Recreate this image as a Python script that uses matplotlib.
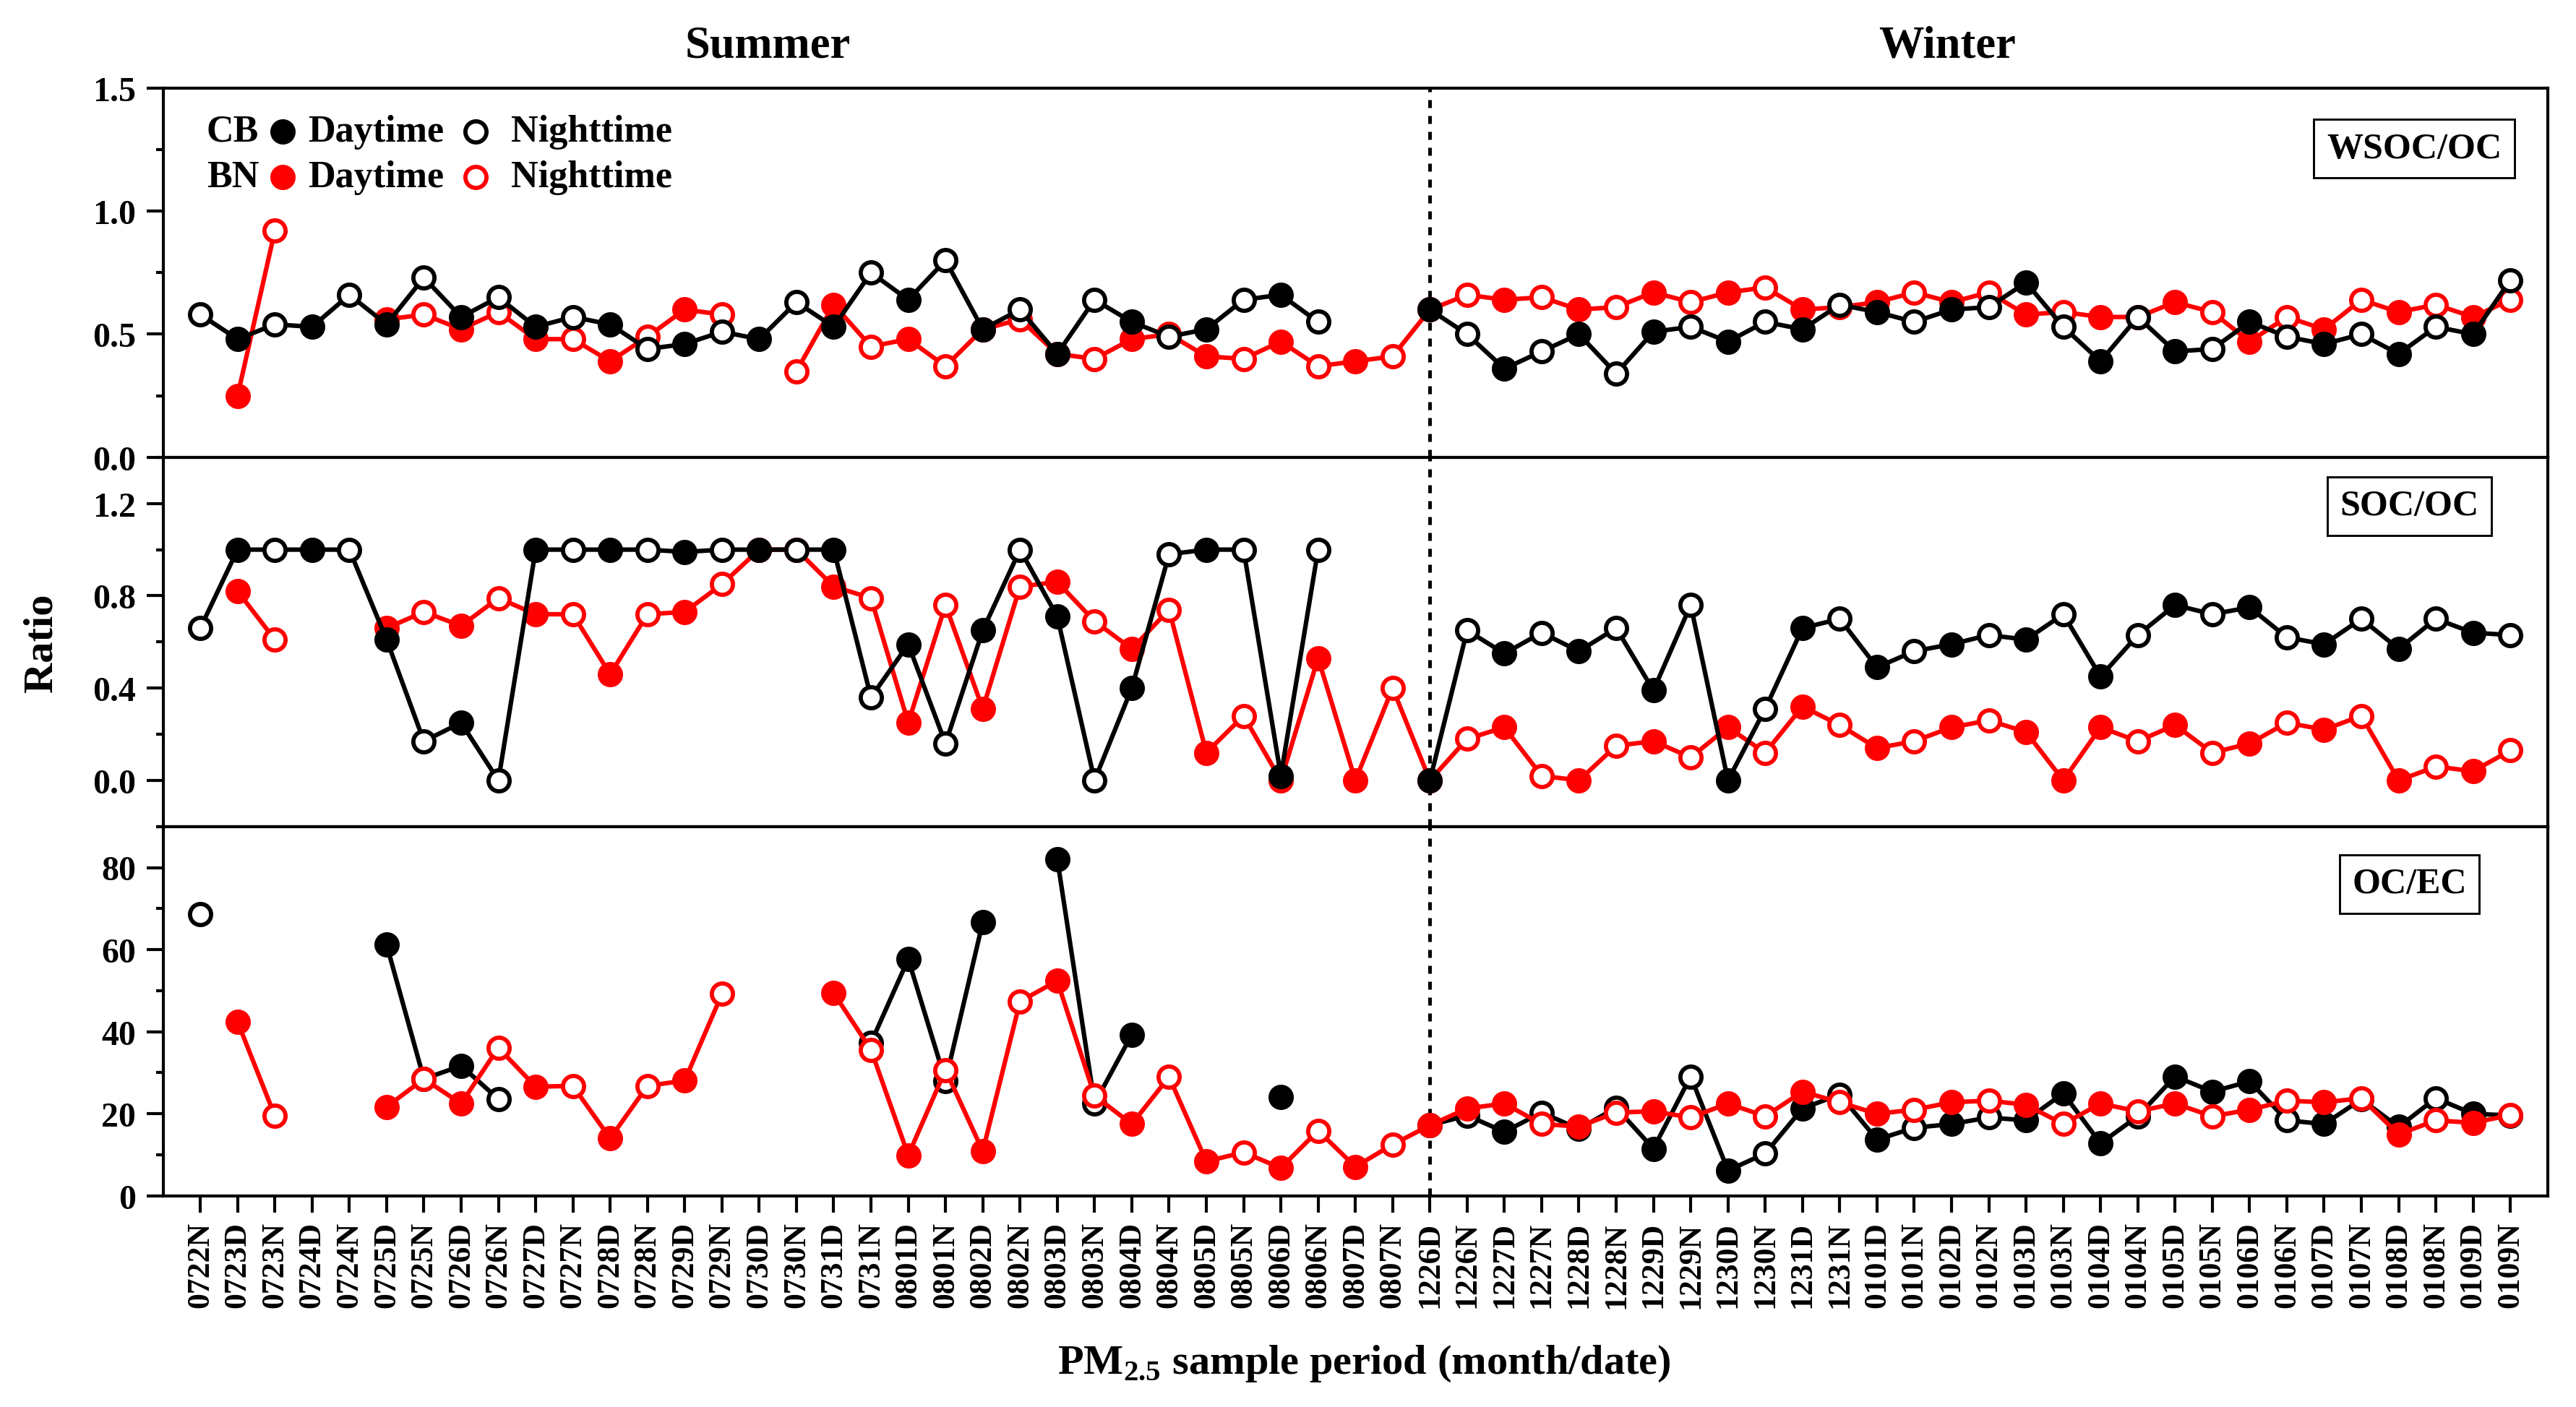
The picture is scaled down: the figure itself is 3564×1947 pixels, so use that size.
import matplotlib
matplotlib.use("Agg")
import matplotlib.pyplot as plt
import numpy as np
from matplotlib.ticker import MultipleLocator

nan = np.nan

# -- sample labels (D = daytime, N = nighttime) --
summer_samples = ["0722N", "0723D", "0723N", "0724D", "0724N", "0725D", "0725N", "0726D",
                  "0726N", "0727D", "0727N", "0728D", "0728N", "0729D", "0729N", "0730D",
                  "0730N", "0731D", "0731N", "0801D", "0801N", "0802D", "0802N", "0803D",
                  "0803N", "0804D", "0804N", "0805D", "0805N", "0806D", "0806N", "0807D",
                  "0807N"]
winter_samples = ["1226D", "1226N", "1227D", "1227N", "1228D", "1228N", "1229D", "1229N",
                  "1230D", "1230N", "1231D", "1231N", "0101D", "0101N", "0102D", "0102N",
                  "0103D", "0103N", "0104D", "0104N", "0105D", "0105N", "0106D", "0106N",
                  "0107D", "0107N", "0108D", "0108N", "0109D", "0109N"]
samples = summer_samples + winter_samples

# -- WSOC/OC --
wsoc_cb = [0.58, 0.48, 0.54, 0.53, 0.66, 0.54, 0.73, 0.57, 0.65, 0.53, 0.57,
           0.54, 0.44, 0.46, 0.51, 0.48, 0.63, 0.53, 0.75, 0.64, 0.80, 0.52,
           0.60, 0.42, 0.64, 0.55, 0.49, 0.52, 0.64, 0.66, 0.55, nan, nan,
           0.60, 0.50, 0.36, 0.43, 0.50, 0.34, 0.51, 0.53, 0.47, 0.55, 0.52,
           0.62, 0.59, 0.55, 0.60, 0.61, 0.71, 0.53, 0.39, 0.57, 0.43, 0.44,
           0.55, 0.49, 0.46, 0.50, 0.42, 0.53, 0.50, 0.72]
wsoc_bn = [nan, 0.25, 0.92, nan, nan, 0.56, 0.58, 0.52, 0.59, 0.48, 0.48,
           0.39, 0.49, 0.60, 0.58, nan, 0.35, 0.62, 0.45, 0.48, 0.37, 0.52,
           0.56, 0.42, 0.40, 0.48, 0.50, 0.41, 0.40, 0.47, 0.37, 0.39, 0.41,
           0.60, 0.66, 0.64, 0.65, 0.60, 0.61, 0.67, 0.63, 0.67, 0.69, 0.60,
           0.61, 0.63, 0.67, 0.63, 0.67, 0.58, 0.59, 0.57, 0.57, 0.63, 0.59,
           0.47, 0.57, 0.52, 0.64, 0.59, 0.62, 0.57, 0.64]

# -- SOC/OC --
soc_cb = [0.66, 1.00, 1.00, 1.00, 1.00, 0.61, 0.17, 0.25, 0.00, 1.00, 1.00,
          1.00, 1.00, 0.99, 1.00, 1.00, 1.00, 1.00, 0.36, 0.59, 0.16, 0.65,
          1.00, 0.71, 0.00, 0.40, 0.98, 1.00, 1.00, 0.02, 1.00, nan, nan,
          0.00, 0.65, 0.55, 0.64, 0.56, 0.66, 0.39, 0.76, 0.00, 0.31, 0.66,
          0.70, 0.49, 0.56, 0.59, 0.63, 0.61, 0.72, 0.45, 0.63, 0.76, 0.72,
          0.75, 0.62, 0.59, 0.70, 0.57, 0.70, 0.64, 0.63]
soc_bn = [nan, 0.82, 0.61, nan, nan, 0.66, 0.73, 0.67, 0.79, 0.72, 0.72,
          0.46, 0.72, 0.73, 0.85, 1.00, 1.00, 0.84, 0.79, 0.25, 0.76, 0.31,
          0.84, 0.86, 0.69, 0.57, 0.74, 0.12, 0.28, 0.00, 0.53, 0.00, 0.40,
          0.00, 0.18, 0.23, 0.02, 0.00, 0.15, 0.17, 0.10, 0.23, 0.12, 0.32,
          0.24, 0.14, 0.17, 0.23, 0.26, 0.21, 0.00, 0.23, 0.17, 0.24, 0.12,
          0.16, 0.25, 0.22, 0.28, 0.00, 0.06, 0.04, 0.13]

# -- OC/EC --
ocec_cb = [68.7, nan, nan, nan, nan, 61.2, 28.5, 31.7, 23.6, nan, nan,
           nan, nan, nan, nan, nan, nan, nan, 37.3, 57.7, 28.0, 66.7,
           nan, 82.1, 22.5, 39.3, nan, nan, nan, 24.1, nan, nan, nan,
           17.2, 19.6, 15.6, 20.3, 16.3, 21.5, 11.5, 29.1, 6.2, 10.3, 21.3,
           24.7, 13.7, 16.6, 17.5, 19.1, 18.4, 25.0, 12.8, 19.4, 29.1, 25.4,
           27.9, 18.4, 17.5, 23.5, 16.8, 23.8, 20.0, 19.6]
ocec_bn = [nan, 42.4, 19.5, nan, nan, 21.7, 28.5, 22.5, 36.1, 26.6, 26.8,
           14.0, 26.8, 28.1, 49.2, nan, nan, 49.4, 35.6, 9.9, 30.7, 10.9,
           47.4, 52.4, 24.4, 17.5, 29.0, 8.4, 10.6, 6.8, 15.9, 7.1, 12.5,
           17.2, 21.3, 22.5, 17.5, 16.9, 20.3, 20.6, 19.1, 22.5, 19.4, 25.4,
           22.8, 20.0, 21.0, 22.8, 23.2, 22.2, 17.5, 22.5, 20.6, 22.5, 19.4,
           21.0, 23.2, 22.8, 23.8, 15.0, 18.4, 17.8, 19.7]

# -- nighttime samples that the original draws with a filled marker --
soc_bn_filled = ["0806N", "0103N"]
ocec_cb_filled = ["0103N", "0105N"]
ocec_bn_filled = ["1226N"]

plt.rcParams["font.family"] = ["Liberation Serif", "DejaVu Serif"]
plt.rcParams["font.weight"] = "bold"
plt.rcParams["mathtext.fontset"] = "custom"
plt.rcParams["mathtext.rm"] = "Liberation Serif:bold"
plt.rcParams["mathtext.bf"] = "Liberation Serif:bold"

x = np.arange(len(samples))
split = len(summer_samples)


def draw_series(ax, values, color, filled_extra=()):
    y = np.asarray(values, dtype=float)
    filled = np.array([s.endswith("D") or s in filled_extra for s in samples])
    ax.plot(x, y, color=color, lw=1.5, solid_joinstyle="round")
    ax.plot(x[filled], y[filled], ls="none", marker="o", ms=7,
            mfc=color, mec=color, mew=1.4)
    ax.plot(x[~filled], y[~filled], ls="none", marker="o", ms=7,
            mfc="white", mec=color, mew=1.4)


fig, axes = plt.subplots(3, 1, figsize=(11.88, 6.493), dpi=300, sharex=True)
fig.subplots_adjust(left=0.0633, right=0.989, top=0.937, bottom=0.150, hspace=0)
ax_w, ax_s, ax_o = axes

# -- draw series (black drawn last on top two panels, red last on bottom) --
draw_series(ax_w, wsoc_bn, "red")
draw_series(ax_w, wsoc_cb, "black")
draw_series(ax_s, soc_bn, "red", soc_bn_filled)
draw_series(ax_s, soc_cb, "black")
draw_series(ax_o, ocec_cb, "black", ocec_cb_filled)
draw_series(ax_o, ocec_bn, "red", ocec_bn_filled)

# -- axes limits / ticks --
ax_w.set_ylim(0, 1.5)
ax_w.yaxis.set_major_locator(MultipleLocator(0.5))
ax_w.yaxis.set_minor_locator(MultipleLocator(0.25))
ax_w.yaxis.set_major_formatter(plt.FormatStrFormatter("%.1f"))

ax_s.set_ylim(-0.2, 1.4)
ax_s.set_yticks([0.0, 0.4, 0.8, 1.2])
ax_s.set_yticks([-0.2, 0.2, 0.6, 1.0, 1.4], minor=True)
ax_s.yaxis.set_major_formatter(plt.FormatStrFormatter("%.1f"))

ax_o.set_ylim(0, 90)
ax_o.yaxis.set_major_locator(MultipleLocator(20))
ax_o.yaxis.set_minor_locator(MultipleLocator(10))

ax_o.set_xlim(-1, len(samples))
ax_o.set_xticks(x)
ax_o.set_xticklabels(samples, rotation=90, fontsize=10.5, fontweight="bold")

for ax in axes:
    for sp in ax.spines.values():
        sp.set_linewidth(1.0)
    ax.tick_params(axis="y", which="major", direction="out", length=5.5, width=1.0,
                   labelsize=11.5, right=False)
    ax.tick_params(axis="y", which="minor", direction="out", length=2.5, width=1.0,
                   right=False)
    ax.tick_params(axis="x", which="minor", bottom=False, top=False)
    ax.axvline(split, color="black", ls=(0, (2.2, 2.2)), lw=1.2, zorder=1)

for ax in (ax_w, ax_s):
    ax.tick_params(axis="x", which="both", bottom=False, labelbottom=False)
ax_o.tick_params(axis="x", which="major", direction="out", length=5.5, width=1.0, pad=3)

# -- panel name boxes --
box = dict(boxstyle="square,pad=0.35", fc="white", ec="black", lw=0.7)
ax_w.text(0.944, 0.836, "WSOC/OC", transform=ax_w.transAxes, ha="center", va="center",
          fontsize=12, fontweight="bold", bbox=box)
ax_s.text(0.942, 0.868, "SOC/OC", transform=ax_s.transAxes, ha="center", va="center",
          fontsize=12, fontweight="bold", bbox=box)
ax_o.text(0.942, 0.844, "OC/EC", transform=ax_o.transAxes, ha="center", va="center",
          fontsize=12, fontweight="bold", bbox=box)

# -- hand-made legend in top panel --
for row_y, site, color in [(0.883, "CB", "black"), (0.758, "BN", "red")]:
    ax_w.text(0.0183, row_y, site, transform=ax_w.transAxes, ha="left", va="center",
              fontsize=12.5, fontweight="bold")
    ax_w.plot([0.0502], [row_y], transform=ax_w.transAxes, marker="o", ms=7,
              mfc=color, mec=color, mew=1.4, ls="none", clip_on=False)
    ax_w.text(0.0608, row_y, "Daytime", transform=ax_w.transAxes, ha="left", va="center",
              fontsize=12.5, fontweight="bold")
    ax_w.plot([0.131], [row_y], transform=ax_w.transAxes, marker="o", ms=7,
              mfc="white", mec=color, mew=1.4, ls="none", clip_on=False)
    ax_w.text(0.146, row_y, "Nighttime", transform=ax_w.transAxes, ha="left", va="center",
              fontsize=12.5, fontweight="bold")

# -- season titles and axis labels --
fig.text(0.298, 0.967, "Summer", ha="center", va="center", fontsize=15, fontweight="bold")
fig.text(0.756, 0.967, "Winter", ha="center", va="center", fontsize=15, fontweight="bold")
fig.text(0.016, 0.543, "Ratio", rotation=90, ha="center", va="center",
         fontsize=14, fontweight="bold")
fig.text(0.5295, 0.031, r"PM$_{\mathbf{2.5}}$ sample period (month/date)",
         ha="center", va="center", fontsize=14, fontweight="bold")

fig.savefig("out.png", dpi=300)
plt.close(fig)
